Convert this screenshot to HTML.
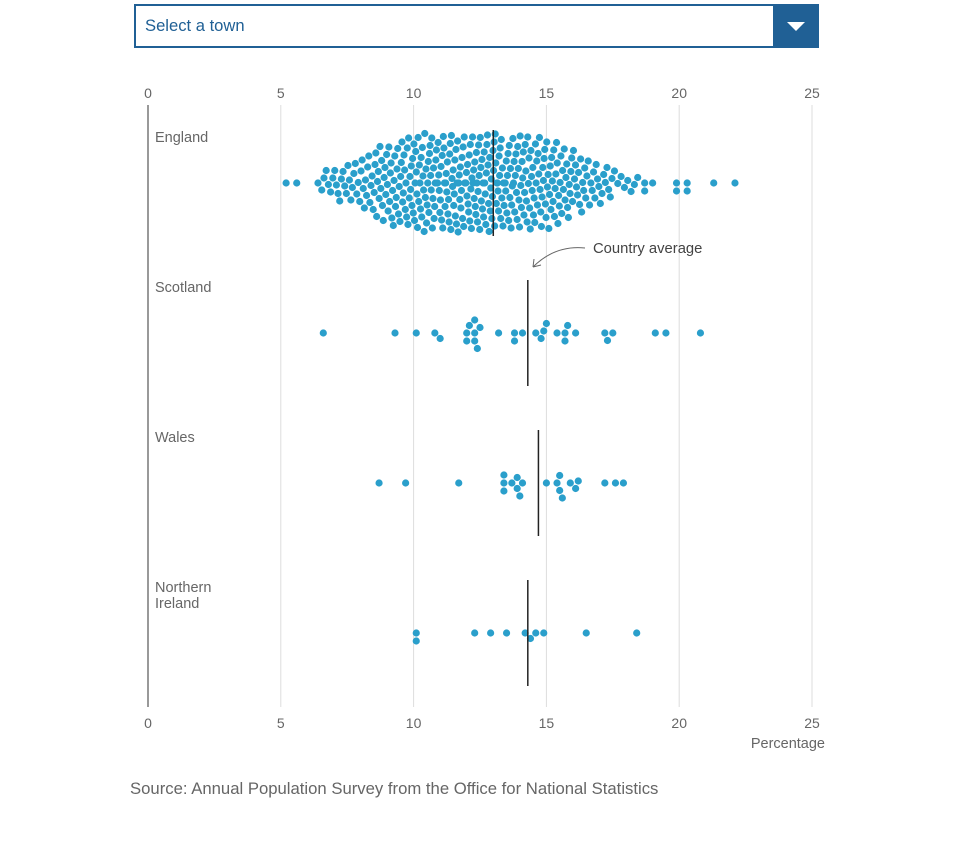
<!DOCTYPE html>
<html><head><meta charset="utf-8"><style>
body{margin:0;width:960px;height:841px;background:#fff;font-family:"Liberation Sans",sans-serif;overflow:hidden;position:relative}
.sel{position:absolute;left:134px;top:4px;border:2px solid #206095;box-sizing:border-box;width:685px;height:44px}
.sel span{position:absolute;left:9px;top:10px;font-size:16.6px;color:#206095}
.btn{position:absolute;right:-2px;top:-2px;width:46px;height:44px;background:#206095}
.btn:after{content:"";position:absolute;left:14px;top:18px;border-left:9px solid transparent;border-right:9px solid transparent;border-top:9px solid #fff}
.src{position:absolute;left:130px;top:779px;font-size:16.7px;color:#666}
</style></head><body>
<div class="sel"><span>Select a town</span><div class="btn"></div></div>
<svg id="chart" width="960" height="770" style="position:absolute;left:0;top:0"></svg>
<div class="src">Source: Annual Population Survey from the Office for National Statistics</div>
<script>
const countries=["England","Scotland","Wales","Northern Ireland"];
const averages=[13.0,14.3,14.7,14.3];
const ticks=[0,5,10,15,20,25];
// England: outliers listed, core given as counts per 0.5 bin
const englandOutliers=[5.2,5.6,6.4,18.7,18.7,19.0,19.9,19.9,20.3,20.3,21.3,22.1];
const englandBinStarts=[6.5,7,7.5,8,8.5,9,9.5,10,10.5,11,11.5,12,12.5,13,13.5,14,14.5,15,15.5,16,16.5,17,17.5,18];
const englandBinCounts=[6,8,9,12,16,18,20,22,23,23,24,24,24,24,22,21,20,19,16,13,10,8,4,4];
const scotland=[6.6,9.3,10.1,10.8,11.0,12.0,12.3,12.1,12.4,12.0,12.3,12.5,12.3,13.2,13.8,13.8,14.1,14.6,14.9,14.8,15.0,15.4,15.7,15.8,15.7,16.1,17.3,17.2,17.5,19.1,19.5,20.8];
const wales=[8.7,9.7,11.7,13.4,13.4,13.4,13.7,13.9,14.0,13.9,14.1,15.0,15.4,15.5,15.6,15.5,15.9,16.1,16.2,17.2,17.6,17.9];
const ni=[10.1,10.1,12.3,12.9,13.5,14.2,14.4,14.6,14.9,16.5,18.4];

const england=englandOutliers.slice();
englandBinStarts.forEach((b,i)=>{const n=englandBinCounts[i];for(let k=0;k<n;k++)england.push(b+(k+0.5)*0.5/n);});
const series=[england,scotland,wales,ni];

const svg=document.getElementById('chart');const NS="http://www.w3.org/2000/svg";
function el(t,a,p){const e=document.createElementNS(NS,t);for(const k in a)e.setAttribute(k,a[k]);(p||svg).appendChild(e);return e;}
const x=v=>148+v*(664/25);
const rowY=i=>183+i*150;
ticks.forEach(t=>{
  const g=el('line',{x1:x(t),x2:x(t),y1:105,y2:707,stroke:t===0?'#999':'#ddd','stroke-width':t===0?2:1});
  
  
  [93,723].forEach((yy,j)=>{const tx=el('text',{x:x(t),y:yy+5,'text-anchor':'middle','font-size':14,fill:'#666'});tx.textContent=t;
  
  });
});
const pl=el('text',{x:825,y:748,'text-anchor':'end','font-size':14.5,fill:'#666'});pl.textContent='Percentage';


countries.forEach((c,i)=>{
  const words=c==="Northern Ireland"?["Northern","Ireland"]:[c];
  words.forEach((w,j)=>{const t=el('text',{x:155,y:rowY(i)-41+j*16,'font-size':14.5,fill:'#666'});t.textContent=w;
  
  });
  const vals=series[i].slice().sort((a,b)=>a-b);const placed=[];const d=7.6;
  vals.forEach(v=>{const px=x(v);let best=0;
    for(let s=0;s<200;s++){const off=(s%2?1:-1)*Math.ceil(s/2)*0.5;
      if(placed.every(p=>(p[0]-px)**2+(p[1]-off)**2>=d*d)){best=off;break;}}
    placed.push([px,best]);
    const dot=el('circle',{cx:px,cy:rowY(i)+best,r:3.6,fill:'#2a9fcb'});
    
    
  });
  const a=el('line',{x1:x(averages[i]),x2:x(averages[i]),y1:rowY(i)-53,y2:rowY(i)+53,stroke:'#222','stroke-width':1.5});
  
  
});
const ann=el('text',{x:593,y:253,'font-size':14.8,fill:'#444'});ann.textContent='Country average';


const arr=el('path',{d:'M585,248 Q555,245 533,267 M533,267 l1,-8 M533,267 l8,-2',fill:'none',stroke:'#666','stroke-width':1});


</script>
</body></html>
